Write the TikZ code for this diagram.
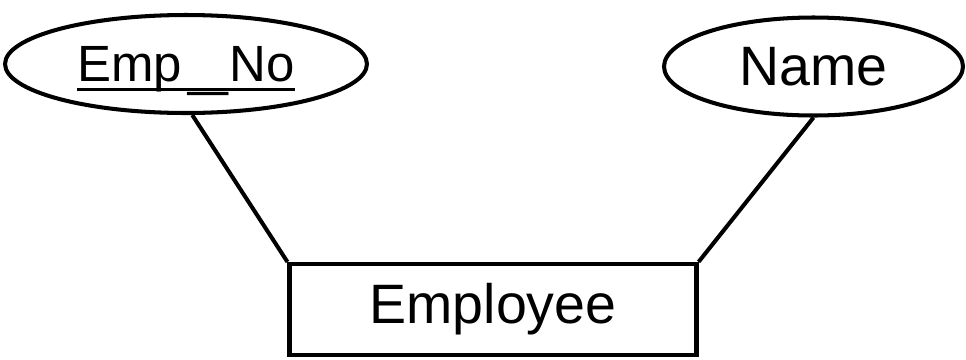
\documentclass[tikz,border=0pt]{standalone}
\usepackage{fontspec}
\setmainfont{Liberation Sans}
\usetikzlibrary{shapes,positioning}
\tikzstyle{attr} = [ellipse, draw, line width=2.3pt, inner sep=0pt, minimum height=1.96cm, text depth=0pt]
\tikzstyle{entity} = [rectangle, draw, line width=2.4pt, inner sep=0pt, minimum width=8.14cm, minimum height=1.82cm]
\tikzstyle{link} = [line width=2.3pt]
\newcommand{\keyattr}[1]{\setbox0\hbox{#1}\rlap{\rule[-0.19em]{\wd0}{0.07em}}\box0}

\begin{document}
\begin{tikzpicture}[x=0.02cm, y=-0.02cm]
    \useasboundingbox (0,0) rectangle (966,359);
    \node[attr, minimum width=7.24cm, font=\fontsize{29}{30}\selectfont] (empno) at (186,64) {\keyattr{Emp\kern0.12em\raisebox{-0.08em}{\scalebox{1.4}[1]{\_}}\kern0.04em No}};
    \node[attr, minimum width=5.98cm, font=\fontsize{31.6}{33}\selectfont] (name) at (813.5,66.5) {Name};
    \node[entity, font=\fontsize{31.6}{33}\selectfont] (emp) at (493,309.5) {Employee};
    \draw[link] (empno.-83) -- (emp.north west);
    \draw[link] (name.south) -- (emp.north east);
\end{tikzpicture}
\end{document}
